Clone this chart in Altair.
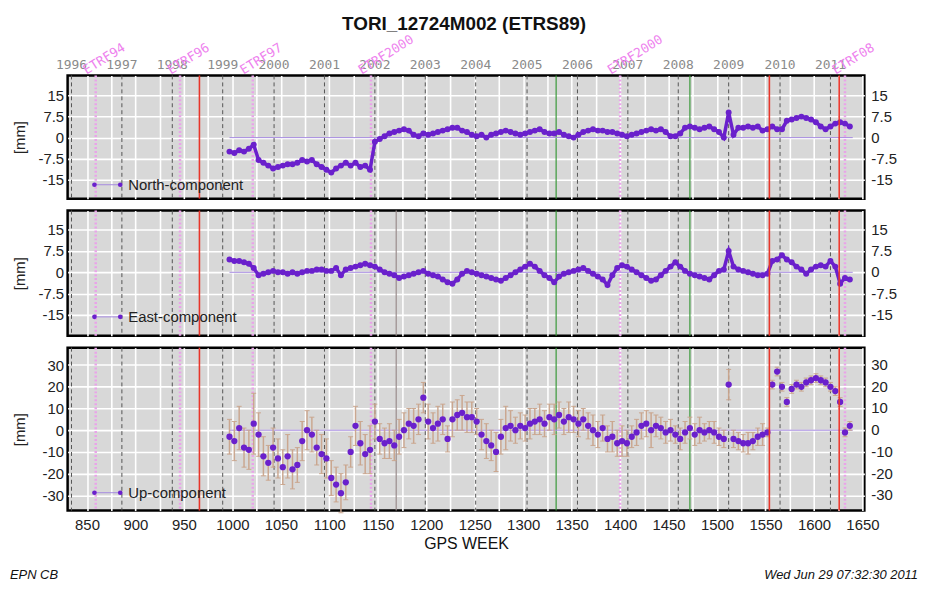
import altair as alt
import pandas as pd

# ---------------- data ----------------
weeks = [
    997, 1002, 1007, 1012, 1017, 1022, 1027, 1032, 1037, 1042,
    1047, 1052, 1057, 1062, 1067, 1072, 1077, 1082, 1087, 1092,
    1097, 1102, 1107, 1112, 1117, 1122, 1127, 1132, 1137, 1142,
    1147, 1152, 1157, 1162, 1167, 1172, 1177, 1182, 1187, 1192,
    1197, 1202, 1207, 1212, 1217, 1222, 1227, 1232, 1237, 1242,
    1247, 1252, 1257, 1262, 1267, 1272, 1277, 1282, 1287, 1292,
    1297, 1302, 1307, 1312, 1317, 1322, 1327, 1332, 1337, 1342,
    1347, 1352, 1357, 1362, 1367, 1372, 1377, 1382, 1387, 1392,
    1397, 1402, 1407, 1412, 1417, 1422, 1427, 1432, 1437, 1442,
    1447, 1452, 1457, 1462, 1467, 1472, 1477, 1482, 1487, 1492,
    1497, 1502, 1507, 1512, 1517, 1522, 1527, 1532, 1537, 1542,
    1547, 1552, 1557, 1562, 1567, 1572, 1577, 1582, 1587, 1592,
    1597, 1602, 1607, 1612, 1617, 1622, 1627, 1632, 1637,
]

north = [
    -5.0, -5.5, -4.5, -5.0, -4.0, -2.5, -8.0, -9.0, -10.0, -11.0,
    -10.5, -10.0, -9.5, -9.5, -9.0, -8.0, -8.5, -8.0, -9.5, -10.5,
    -11.5, -12.5, -11.0, -10.0, -9.0, -10.0, -9.0, -10.5, -10.0, -11.5,
    -1.5, -0.5, 0.5, 1.5, 2.0, 2.5, 3.0, 2.5, 1.0, 0.5,
    1.5, 1.0, 1.5, 2.0, 2.5, 3.0, 3.5, 3.5, 2.5, 2.0,
    1.0, 0.5, 1.0, 0.0, 1.0, 1.5, 2.0, 2.5, 2.0, 1.5,
    1.0, 1.5, 2.0, 2.5, 3.0, 2.0, 1.5, 1.5, 2.0, 1.0,
    0.5, 0.0, 1.0, 2.0, 2.5, 3.0, 2.5, 2.5, 2.0, 2.0,
    1.5, 1.0, 0.5, 1.0, 1.5, 2.0, 2.5, 3.0, 2.5, 3.0,
    2.0, 0.5, 0.5, 1.5, 3.5, 4.0, 3.5, 3.0, 3.5, 4.0,
    3.0, 2.0, 0.0, 9.0, 1.0, 3.5, 3.5, 4.0, 3.5, 4.0,
    2.5, 3.0, 4.0, 3.0, 3.0, 6.0, 6.5, 7.0, 7.5, 7.0,
    6.5, 5.5, 4.0, 3.0, 4.0, 5.0, 5.5, 5.0, 4.0,
]

east = [
    4.5, 4.0, 4.0, 3.5, 3.0, 1.5, -1.0, -0.5, 0.0, 0.5,
    0.0, 0.0, -0.5, 0.0, -0.5, 0.0, 0.5, 0.5, 1.0, 1.0,
    0.5, 0.5, 1.5, -1.0, 1.0, 1.5, 2.0, 2.5, 3.0, 2.5,
    2.0, 1.0, 0.0, -0.5, -1.0, -2.0, -1.5, -1.0, -0.5, 0.0,
    0.5, -0.5, -1.0, -1.5, -2.5, -3.5, -4.0, -2.5, -0.5, 0.5,
    0.0, -0.5, -1.0, -1.5, -2.0, -2.5, -3.0, -2.0, -1.0, 0.0,
    1.0, 2.0, 3.0, 2.0, 0.5, -1.0, -2.0, -3.5, -1.5, -0.5,
    0.0, 0.5, 1.0, 1.5, 0.5, -0.5, -1.5, -2.5, -4.5, -1.0,
    1.5, 2.5, 2.0, 1.0, 0.0, -1.0, -2.0, -3.0, -2.5, -1.0,
    0.5, 2.0, 3.5, 2.0, 0.5, -0.5, -1.0, -1.5, -2.0, -2.5,
    -1.0, 0.5, 1.0, 7.5, 2.0, 1.0, 0.5, 0.0, -0.5, -1.0,
    -1.0, -0.5, 4.0, 4.5, 6.0, 4.5, 3.5, 2.0, 1.0, -0.5,
    1.0, 2.0, 2.5, 2.0, 4.0, 2.0, -4.0, -2.0, -2.5,
]

up = [
    -3, -5, 1, -8, -9, 3, -2, -12, -15, -8,
    -13, -17, -12, -18, -16, -5, 0, -2, -8, -11,
    -13, -22, -25, -29, -24, -10, 2, -6, -11, -9,
    4, -4, -6, -5, -7, -3, 0, 3, 2, 5,
    15, 4, 1, 3, 5, -4, 5, 7, 8, 6,
    6, 4, -2, -5, -7, -10, -3, 1, 2, 0,
    2, 1, 3, 4, 5, 3, 6, 5, 7, 4,
    6, 5, 3, 5, 2, 0, -2, 1, -4, -3,
    -6, -5, -6, -3, -1, 2, 3, 0, 2, 1,
    -1, 0, -2, -4, -1, 1, -2, 0, -1, 0,
    -1, -3, -4, 21, -4, -5, -6, -6, -5, -3,
    -2, -1, 21, 27, 20, 13, 19, 21, 20, 22,
    23, 24, 23, 22, 20, 18, 13, -1, 2,
]

up_err = [
    8, 9, 10, 9, 9, 14, 10, 9, 8, 9,
    9, 8, 10, 9, 8, 9, 9, 8, 8, 9,
    9, 8, 8, 9, 8, 7, 9, 10, 9, 11,
    8, 7, 7, 8, 7, 8, 8, 7, 8, 7,
    7, 8, 7, 8, 7, 6, 8, 7, 8, 7,
    7, 6, 7, 8, 7, 9, 8, 10, 7, 6,
    6, 6, 7, 6, 7, 6, 6, 7, 6, 6,
    7, 6, 6, 5, 6, 7, 6, 6, 6, 7,
    6, 7, 6, 5, 6, 6, 6, 8, 5, 5,
    5, 5, 4, 5, 5, 5, 5, 6, 4, 4,
    5, 4, 4, 7, 4, 4, 4, 5, 4, 4,
    5, 2, 2, 2, 2, 2, 2, 2, 2, 2,
    2, 2, 2, 2, 2, 2, 2, 2, 2,
]

year_weeks = [834, 886, 938, 990, 1043, 1095, 1147, 1199, 1251, 1304,
              1356, 1408, 1460, 1512, 1565, 1617]
year_labels = ["1996", "1997", "1998", "1999", "2000", "2001", "2002", "2003",
               "2004", "2005", "2006", "2007", "2008", "2009", "2010", "2011"]
etrf_weeks = [859, 946, 1021, 1143, 1400, 1632]
etrf_labels = ["ETRF94", "ETRF96", "ETRF97", "ETRF2000", "ETRF2000", "ETRF08"]
red_weeks = [966, 1554, 1626]
green_weeks = [1334, 1472]
gray_weeks = [1169]

grid_weeks = [850, 875, 900, 925, 950, 975, 1000, 1025, 1050, 1075, 1100,
              1125, 1150, 1175, 1200, 1225, 1250, 1275, 1300, 1325, 1350,
              1375, 1400, 1425, 1450, 1475, 1500, 1525, 1550, 1575, 1600,
              1625, 1650]

ne_ticks = [-15, -7.5, 0, 7.5, 15]
ne_tick_labels = ["-15", "-7.5", "0", "7.5", "15"]
u_ticks = [-30, -20, -10, 0, 10, 20, 30]
u_tick_labels = ["-30", "-20", "-10", "0", "10", "20", "30"]

X_DOM = [830, 1652]
W = 802
FONT = "Liberation Sans"
MONO = "DejaVu Sans Mono"
PURPLE = "#6a20cc"
ZERO_COL = "#a58ae0"
ERR_COL = "#c9a48c"


def panel(vals, y_dom, y_ticks, y_tick_labels, h, name, leg_y,
          err=None, bottom=False, top=False, gray=False, footer=False,
          psize=36, line=True):
    df = pd.DataFrame({"week": weeks, "mm": vals})
    xs = alt.Scale(domain=X_DOM, nice=False, zero=False)
    ys = alt.Scale(domain=y_dom, nice=False, zero=False)
    common = dict(values=grid_weeks, grid=True, gridColor="white",
                  gridWidth=1.6, domain=False, ticks=False, format="d")
    if bottom:
        xaxis = alt.Axis(labels=True,
                         labelExpr="datum.value % 50 == 0 ? datum.label : ''",
                         labelFont=FONT, labelFontSize=15, labelColor="#222",
                         labelPadding=7, title="GPS WEEK", titleFont=FONT,
                         titleFontSize=16, titleFontWeight="normal",
                         titleColor="#111", titlePadding=3, **common)
    else:
        xaxis = alt.Axis(labels=False, title=None, **common)
    yaxis = alt.Axis(values=y_ticks, grid=True, gridColor="white",
                     gridWidth=1.6, domain=False, ticks=False,
                     labelExpr="'' + datum.value", labelFont=FONT,
                     labelFontSize=15, labelColor="#222", labelPadding=4,
                     title="[mm]", titleFont=FONT, titleFontSize=15,
                     titleFontWeight="normal", titleColor="#222",
                     titleX=-40, titleY=h / 2)
    X = alt.X("week:Q", scale=xs, axis=xaxis)
    Y = alt.Y("mm:Q", scale=ys, axis=yaxis)

    layers = []
    layers.append(
        alt.Chart(pd.DataFrame({"week": year_weeks}))
        .mark_rule(color="#555555", strokeDash=[4, 3], strokeWidth=1)
        .encode(x=X)
    )
    layers.append(
        alt.Chart(pd.DataFrame({"week": etrf_weeks}))
        .mark_rule(color="#e9a3e9", strokeDash=[2, 2], strokeWidth=2.5)
        .encode(x=X)
    )
    layers.append(
        alt.Chart(pd.DataFrame({"week": green_weeks}))
        .mark_rule(color="#3a9a3a", strokeWidth=1.2)
        .encode(x=X)
    )
    if gray:
        layers.append(
            alt.Chart(pd.DataFrame({"week": gray_weeks}))
            .mark_rule(color="#9a8c8c", strokeWidth=1.2)
            .encode(x=X)
        )
    layers.append(
        alt.Chart(pd.DataFrame({"week": [997], "week2": [1640], "mm": [0]}))
        .mark_rule(color=ZERO_COL, strokeWidth=1)
        .encode(x=X, x2="week2:Q", y=Y)
    )
    if err is not None:
        edf = pd.DataFrame({"week": weeks, "mm": vals, "err": err})
        eb = alt.Chart(edf).transform_calculate(
            lo="datum.mm - datum.err", hi="datum.mm + datum.err")
        layers.append(
            eb.mark_rule(color=ERR_COL, strokeWidth=1.5, opacity=0.95)
            .encode(x=X, y=alt.Y("lo:Q", scale=ys, axis=yaxis), y2="hi:Q")
        )
        layers.append(
            eb.mark_tick(color=ERR_COL, orient="horizontal", size=5,
                         thickness=1, opacity=0.95)
            .encode(x=X, y=alt.Y("hi:Q", scale=ys, axis=yaxis))
        )
        layers.append(
            eb.mark_tick(color=ERR_COL, orient="horizontal", size=5,
                         thickness=1, opacity=0.95)
            .encode(x=X, y=alt.Y("lo:Q", scale=ys, axis=yaxis))
        )
    if line:
        layers.append(
            alt.Chart(df).mark_line(color=PURPLE, strokeWidth=3.5)
            .encode(x=X, y=Y)
        )
    layers.append(
        alt.Chart(df).mark_circle(size=psize, color=PURPLE, opacity=1)
        .encode(x=X, y=Y)
    )
    layers.append(
        alt.Chart(pd.DataFrame({"week": red_weeks}))
        .mark_rule(color="#e8352a", strokeWidth=1.6)
        .encode(x=X)
    )
    one = pd.DataFrame({"a": [0]})
    layers.append(
        alt.Chart(one).mark_rule(color=ZERO_COL, strokeWidth=1)
        .encode(x=alt.value(27), x2=alt.value(53), y=alt.value(leg_y))
    )
    for px in (27, 53):
        layers.append(
            alt.Chart(one).mark_circle(size=22, color=PURPLE, opacity=1)
            .encode(x=alt.value(px), y=alt.value(leg_y))
        )
    layers.append(
        alt.Chart(one).mark_text(text=name, align="left", baseline="middle",
                                 font=FONT, fontSize=15, color="#222")
        .encode(x=alt.value(61), y=alt.value(leg_y))
    )
    layers.append(
        alt.Chart(pd.DataFrame({"mm": y_ticks, "lab": y_tick_labels}))
        .mark_text(align="left", baseline="middle", font=FONT, fontSize=15,
                   color="#222")
        .encode(x=alt.value(W + 7), y=Y, text="lab:N")
    )
    if top:
        layers.append(
            alt.Chart(pd.DataFrame({"week": year_weeks, "lab": year_labels}))
            .mark_text(baseline="bottom", font=MONO, fontSize=13,
                       color="#8a8a8a")
            .encode(x=X, y=alt.value(-3), text="lab:N")
        )
        layers.append(
            alt.Chart(pd.DataFrame({"week": etrf_weeks, "lab": etrf_labels}))
            .mark_text(align="left", baseline="bottom", font=MONO,
                       fontSize=13, color="#ee82ee", angle=328, dx=-9)
            .encode(x=X, y=alt.value(-3), text="lab:N")
        )
    if footer:
        layers.append(
            alt.Chart(one).mark_text(text="EPN CB", align="left",
                                     baseline="middle", font=FONT,
                                     fontSize=13, fontStyle="italic",
                                     color="#111")
            .encode(x=alt.value(-58), y=alt.value(h + 65))
        )
        layers.append(
            alt.Chart(one).mark_text(text="Wed Jun 29 07:32:30 2011",
                                     align="right", baseline="middle",
                                     font=FONT, fontSize=13,
                                     fontStyle="italic", color="#111")
            .encode(x=alt.value(856), y=alt.value(h + 65))
        )
    return alt.layer(*layers).properties(width=W, height=h)


p1 = panel(north, [-21.8, 22.2], ne_ticks, ne_tick_labels, 124,
           "North-component", 110, top=True)
p2 = panel(east, [-22.3, 21.7], ne_ticks, ne_tick_labels, 126,
           "East-component", 107, gray=True)
p3 = panel(up, [-37, 38], u_ticks, u_tick_labels, 164,
           "Up-component", 146, err=up_err, bottom=True, gray=True,
           footer=True, psize=40, line=False)

chart = (
    alt.vconcat(p1, p2, p3, spacing=12, bounds="flush")
    .properties(
        title=alt.TitleParams("TORI_12724M002 (ETRS89)", font=FONT,
                              fontSize=19, fontWeight="bold", color="#111",
                              anchor="middle", offset=-2),
        padding={"left": 0, "top": 5, "right": 0, "bottom": 0},
    )
    .configure_view(fill="#d8d8d8", stroke="black", strokeWidth=2.5)
)

chart.save("out.html", embed_options={"renderer": "svg", "actions": False})
